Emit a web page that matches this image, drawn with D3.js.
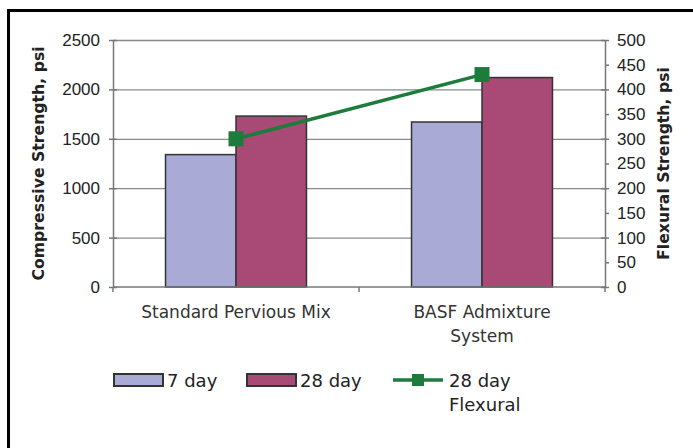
<!DOCTYPE html>
<html>
<head>
<meta charset="utf-8">
<script src="https://cdn.jsdelivr.net/npm/d3@7"></script>
<style>
  body { margin: 0; background: #fff; }
  svg { display: block; font-family: "DejaVu Sans", sans-serif; }
</style>
</head>
<body>
<svg id="chart" width="693" height="448"></svg>
<script>
// data
var categories = ["Standard Pervious Mix", "BASF Admixture System"];
var categoryLines = [["Standard Pervious Mix"], ["BASF Admixture", "System"]];
var series = ["7 day", "28 day"];
var day7 = [1340, 1670];
var day28 = [1730, 2120];
var flexural = [300, 430];
var leftTicks = [0, 500, 1000, 1500, 2000, 2500];
var rightTicks = [0, 50, 100, 150, 200, 250, 300, 350, 400, 450, 500];

var colors = { "7 day": "#aaaad6", "28 day": "#a84976", line: "#1b7c3c" };

var margin = { left: 113, right: 88, top: 40, bottom: 161 },
    width = 693 - margin.left - margin.right,
    height = 448 - margin.top - margin.bottom;

var svg = d3.select("#chart");

// frame
svg.append("path")
    .attr("d", "M8.5,448 L8.5,10.5 L693,10.5")
    .attr("fill", "none")
    .attr("stroke", "#000")
    .attr("stroke-width", 3);

var g = svg.append("g")
    .attr("transform", "translate(" + margin.left + "," + margin.top + ")");

var x0 = d3.scaleBand()
    .domain(categories)
    .range([0, width])
    .paddingInner(0.427)
    .paddingOuter(0.2135);

var x1 = d3.scaleBand()
    .domain(series)
    .range([0, x0.bandwidth()]);

var y = d3.scaleLinear().domain([0, 2500]).range([height, 0]);
var y2 = d3.scaleLinear().domain([0, 500]).range([height, 0]);

// gridlines
g.selectAll(".grid")
    .data(leftTicks.slice(1))
    .enter().append("line")
    .attr("class", "grid")
    .attr("x1", 0).attr("x2", width)
    .attr("y1", d => y(d) + 0.5).attr("y2", d => y(d) + 0.5)
    .attr("stroke", "#8a8a8a")
    .attr("stroke-width", 1.3);

// bars
var rows = categories.map((c, i) => ({ cat: c, vals: [
    { key: "7 day", value: day7[i] },
    { key: "28 day", value: day28[i] }
] }));

g.selectAll(".group")
    .data(rows)
    .enter().append("g")
    .attr("class", "group")
    .attr("transform", d => "translate(" + x0(d.cat) + ",0)")
    .selectAll("rect")
    .data(d => d.vals)
    .enter().append("rect")
    .attr("x", d => x1(d.key))
    .attr("y", d => y(d.value))
    .attr("width", x1.bandwidth())
    .attr("height", d => height - y(d.value))
    .attr("fill", d => colors[d.key])
    .attr("stroke", "#333")
    .attr("stroke-width", 1.5);

// left axis
var axisL = g.append("g")
    .call(d3.axisLeft(y).tickValues(leftTicks).tickFormat(d3.format("d")).tickSize(0).tickPadding(13));
axisL.select(".domain").attr("stroke", "#777").attr("stroke-width", 1.5);
axisL.selectAll(".tick").append("line")
    .attr("x1", -4).attr("x2", 4).attr("stroke", "#777").attr("stroke-width", 1.5);
axisL.selectAll("text").attr("font-size", 17).attr("fill", "#222");

// right axis
var axisR = g.append("g")
    .attr("transform", "translate(" + width + ",0)")
    .call(d3.axisRight(y2).tickValues(rightTicks).tickFormat(d3.format("d")).tickSize(0).tickPadding(12));
axisR.select(".domain").attr("stroke", "#777").attr("stroke-width", 1.5);
axisR.selectAll(".tick").append("line")
    .attr("x1", d => d % 100 === 0 ? -4 : 0).attr("x2", 4)
    .attr("stroke", "#777").attr("stroke-width", 1.5);
axisR.selectAll("text").attr("font-size", 17).attr("fill", "#222");

// bottom axis
g.append("line")
    .attr("x1", 0).attr("x2", width)
    .attr("y1", height).attr("y2", height)
    .attr("stroke", "#777").attr("stroke-width", 1.5);
g.selectAll(".xtick")
    .data([0, width / 2, width])
    .enter().append("line")
    .attr("x1", d => d).attr("x2", d => d)
    .attr("y1", height).attr("y2", height + 5)
    .attr("stroke", "#777").attr("stroke-width", 1.5);

g.selectAll(".xlabel")
    .data(categories)
    .enter().append("text")
    .attr("class", "xlabel")
    .attr("x", d => x0(d) + x0.bandwidth() / 2)
    .attr("y", height + 31)
    .attr("text-anchor", "middle")
    .attr("font-size", 17)
    .attr("fill", "#333")
    .selectAll("tspan")
    .data((d, i) => categoryLines[i])
    .enter().append("tspan")
    .attr("x", function() { return this.parentNode.getAttribute("x"); })
    .attr("dy", (d, i) => i ? 24 : 0)
    .text(d => d);

// flexural line
var cx = i => x0(categories[i]) + x0.bandwidth() / 2;
g.append("path")
    .datum(flexural)
    .attr("fill", "none")
    .attr("stroke", colors.line)
    .attr("stroke-width", 3.5)
    .attr("d", d3.line().x((d, i) => cx(i)).y(d => y2(d)));
g.selectAll(".marker")
    .data(flexural)
    .enter().append("rect")
    .attr("x", (d, i) => cx(i) - 7.5)
    .attr("y", d => y2(d) - 7.5)
    .attr("width", 15).attr("height", 15)
    .attr("fill", colors.line);

// axis titles
svg.append("text")
    .attr("transform", "translate(44," + (margin.top + height / 2) + ") rotate(-90)")
    .attr("text-anchor", "middle")
    .attr("font-weight", "bold")
    .attr("font-size", 15.7)
    .attr("fill", "#222")
    .text("Compressive Strength, psi");
svg.append("text")
    .attr("transform", "translate(669," + (margin.top + height / 2) + ") rotate(-90)")
    .attr("text-anchor", "middle")
    .attr("font-weight", "bold")
    .attr("font-size", 15.7)
    .attr("fill", "#222")
    .text("Flexural Strength, psi");

// legend
var legend = svg.append("g").attr("transform", "translate(0,380)");
var swatchX = [114, 247];
series.forEach((s, i) => {
    legend.append("rect")
        .attr("x", swatchX[i]).attr("y", -6)
        .attr("width", 49).attr("height", 12)
        .attr("fill", colors[s])
        .attr("stroke", "#333").attr("stroke-width", 2);
    legend.append("text")
        .attr("x", swatchX[i] + 53).attr("y", 7)
        .attr("font-size", 18).attr("fill", "#222")
        .text(s);
});
legend.append("line")
    .attr("x1", 393).attr("x2", 443)
    .attr("stroke", colors.line).attr("stroke-width", 3.5);
legend.append("rect")
    .attr("x", 412).attr("y", -6).attr("width", 12).attr("height", 12)
    .attr("fill", colors.line);
legend.append("text")
    .attr("x", 449).attr("y", 7)
    .attr("font-size", 18).attr("fill", "#222")
    .selectAll("tspan")
    .data(["28 day", "Flexural"])
    .enter().append("tspan")
    .attr("x", 449)
    .attr("dy", (d, i) => i ? 24 : 0)
    .text(d => d);
</script>
</body>
</html>
